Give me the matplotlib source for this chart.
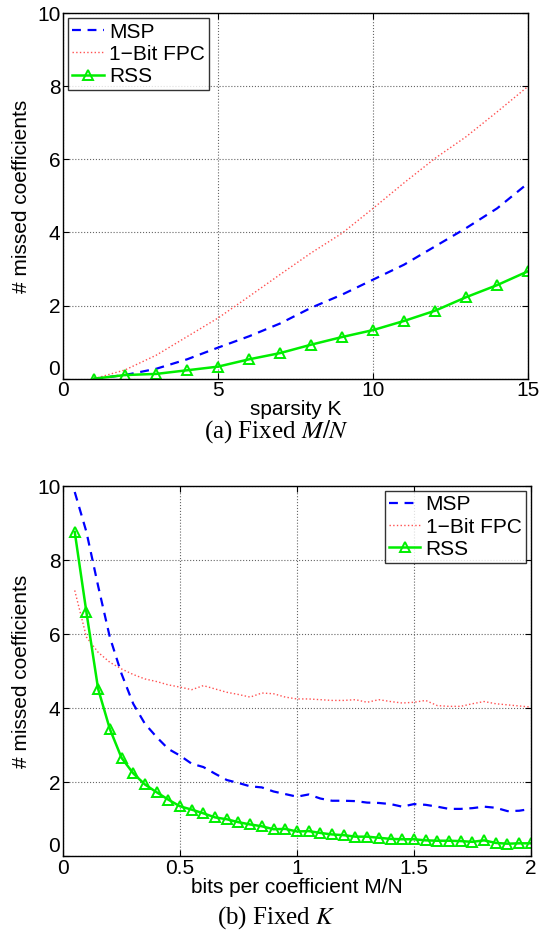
import numpy as np
import matplotlib
matplotlib.use('Agg')
import matplotlib.pyplot as plt

plt.rcParams['font.family'] = ['Liberation Sans', 'DejaVu Sans']
plt.rcParams['mathtext.fontset'] = 'stix'

# (a) fixed M/N: sparsity K
k_vals = [1, 2, 3, 4, 5, 6, 7, 8, 9, 10, 11, 12, 13, 14, 15]
msp_a = [0.0, 0.1, 0.27, 0.53, 0.85, 1.16, 1.51, 1.94, 2.3, 2.71, 3.12, 3.62, 4.12, 4.66, 5.35]
fpc_a = [0.0, 0.24, 0.64, 1.15, 1.66, 2.25, 2.85, 3.44, 3.98, 4.66, 5.36, 6.03, 6.62, 7.3, 8.0]
rss_a = [0.0, 0.1, 0.13, 0.23, 0.33, 0.53, 0.70, 0.93, 1.14, 1.33, 1.58, 1.86, 2.23, 2.56, 2.94]

# (b) fixed K: bits per coefficient M/N
mn_vals = [0.05, 0.10, 0.15, 0.20, 0.25, 0.30, 0.35, 0.40, 0.45, 0.50,
           0.55, 0.60, 0.65, 0.70, 0.75, 0.80, 0.85, 0.90, 0.95, 1.00,
           1.05, 1.10, 1.15, 1.20, 1.25, 1.30, 1.35, 1.40, 1.45, 1.50,
           1.55, 1.60, 1.65, 1.70, 1.75, 1.80, 1.85, 1.90, 1.95, 2.00]
msp_b = [9.84, 8.76, 7.3, 5.92, 4.93, 4.12, 3.58, 3.22, 2.9, 2.72,
         2.5, 2.41, 2.23, 2.06, 1.98, 1.89, 1.86, 1.75, 1.68, 1.61,
         1.67, 1.56, 1.5, 1.5, 1.49, 1.45, 1.44, 1.41, 1.34, 1.41,
         1.39, 1.34, 1.28, 1.28, 1.3, 1.34, 1.31, 1.22, 1.23, 1.28]
fpc_b = [7.18, 5.92, 5.51, 5.24, 5.06, 4.91, 4.79, 4.72, 4.63, 4.57,
         4.5, 4.61, 4.52, 4.43, 4.37, 4.3, 4.41, 4.39, 4.3, 4.25,
         4.25, 4.23, 4.21, 4.21, 4.23, 4.16, 4.23, 4.18, 4.14, 4.16,
         4.21, 4.07, 4.05, 4.05, 4.12, 4.18, 4.12, 4.09, 4.06, 4.03]
rss_b = [8.76, 6.59, 4.52, 3.44, 2.66, 2.24, 1.94, 1.73, 1.53, 1.35,
         1.26, 1.16, 1.05, 1.0, 0.92, 0.86, 0.81, 0.73, 0.74, 0.67,
         0.68, 0.63, 0.59, 0.57, 0.53, 0.53, 0.50, 0.47, 0.46, 0.46,
         0.43, 0.42, 0.42, 0.41, 0.39, 0.43, 0.36, 0.34, 0.35, 0.35]

FS = 15

fig = plt.figure(figsize=(5.53, 9.42), dpi=100)
ax1 = fig.add_axes([0.114, 0.598, 0.841, 0.388])
ax2 = fig.add_axes([0.114, 0.091, 0.846, 0.393])


def style(ax):
    ax.grid(True, linestyle=':', color='#666666', linewidth=0.8)
    ax.tick_params(direction='in', top=True, right=True, labelsize=FS, length=4, pad=2)
    for s in ax.spines.values():
        s.set_linewidth(1.0)
    # matlab-style: lift the y "0" so it sits above the x "0"
    ax.yaxis.get_major_ticks()[0].label1.set_va('bottom')


def draw(ax, x, msp, fpc, rss):
    ax.plot(x, msp, '--', color='#0000ff', lw=1.6, dashes=(4, 3), label='MSP')
    ax.plot(x, fpc, ':', color='#ff5050', lw=1.0, label='1\u2212Bit FPC')
    ax.plot(x, rss, '-^', color='#00ee00', lw=1.8, ms=7, mfc='none', mew=1.4, label='RSS')


def add_legend(ax, loc):
    leg = ax.legend(loc=loc, fontsize=FS, fancybox=False, edgecolor='black',
                    borderaxespad=0.25, handlelength=1.5, labelspacing=0.15,
                    borderpad=0.2, handletextpad=0.25)
    leg.get_frame().set_linewidth(1.0)


draw(ax1, k_vals, msp_a, fpc_a, rss_a)
ax1.set_xlim(0, 15)
ax1.set_ylim(0, 10)
ax1.set_xticks([0, 5, 10, 15])
ax1.set_yticks([0, 2, 4, 6, 8, 10])
ax1.set_xlabel('sparsity K', fontsize=FS, labelpad=0)
ax1.set_ylabel('# missed coefficients', fontsize=FS, labelpad=4)
style(ax1)
add_legend(ax1, 'upper left')

draw(ax2, mn_vals, msp_b, fpc_b, rss_b)
ax2.set_xlim(0, 2)
ax2.set_ylim(0, 10)
ax2.set_xticks([0, 0.5, 1, 1.5, 2])
ax2.set_xticklabels(['0', '0.5', '1', '1.5', '2'])
ax2.set_yticks([0, 2, 4, 6, 8, 10])
ax2.set_xlabel('bits per coefficient M/N', fontsize=FS, labelpad=0)
ax2.set_ylabel('# missed coefficients', fontsize=FS, labelpad=4)
style(ax2)
add_legend(ax2, 'upper right')

fig.text(0.5, 1 - 432 / 942, r'(a) Fixed $M/N$', ha='center', va='center',
         fontsize=18, family='Liberation Serif')
fig.text(0.5, 1 - 918 / 942, r'(b) Fixed $K$', ha='center', va='center',
         fontsize=18, family='Liberation Serif')

fig.savefig('out.png', dpi=100)
